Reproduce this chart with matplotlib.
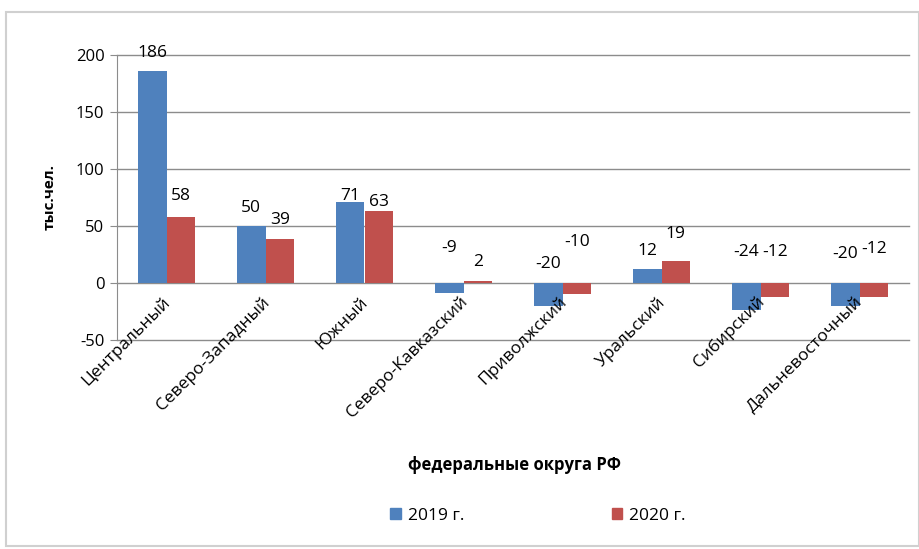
import matplotlib
matplotlib.use("Agg")
import matplotlib.pyplot as plt
import numpy as np
from matplotlib.patches import Rectangle, Patch

plt.rcParams['font.family'] = ['Open Sans', 'DejaVu Sans']

categories = ["Центральный", "Северо-Западный", "Южный", "Северо-Кавказский",
              "Приволжский", "Уральский", "Сибирский", "Дальневосточный"]
values_2019 = [186, 50, 71, -9, -20, 12, -24, -20]
values_2020 = [58, 39, 63, 2, -10, 19, -12, -12]
series_names = ["2019 г.", "2020 г."]
yticks = [-50, 0, 50, 100, 150, 200]

# label heights (data units) as placed in the reference
label_y_2019 = [202, 66, 76, 31, 17, 28, 27, 25]
label_y_2020 = [76, 55, 71, 18, 36, 43, 27, 30]

blue = "#4F81BD"
red = "#C0504D"
grid_c = "#8c8c8c"

fig = plt.figure(figsize=(9.19, 5.49), dpi=100)
ax = fig.add_axes([117/919, 1-340/549, (909-117)/919, (340-55)/549])

x = np.arange(len(categories))
w = 0.29
ax.bar(x - w/2, values_2019, w, color=blue, zorder=3)
ax.bar(x + w/2, values_2020, w, color=red, zorder=3)

ax.set_xlim(-0.5, len(categories) - 0.5)
ax.set_ylim(-50, 200)
ax.set_yticks(yticks)
ax.set_yticklabels([str(t) for t in yticks], fontsize=12)
ax.tick_params(axis='y', length=5, color=grid_c, pad=4)
for t in yticks:
    ax.axhline(t, color=grid_c, linewidth=1, zorder=1, clip_on=False)
ax.set_xticks([])
for s in ['top', 'right', 'bottom']:
    ax.spines[s].set_visible(False)
ax.spines['left'].set_color(grid_c)

for xi, v, ly in zip(x, values_2019, label_y_2019):
    ax.text(xi - w/2, ly, str(v), ha='center', va='center', fontsize=12.5, zorder=4)
for xi, v, ly in zip(x, values_2020, label_y_2020):
    ax.text(xi + w/2, ly, str(v), ha='center', va='center', fontsize=12.5, zorder=4)

for xi, c in zip(x, categories):
    ax.annotate(c, xy=(xi, 0), xytext=(1, -12), textcoords='offset points',
                rotation=45, ha='right', va='center', rotation_mode='anchor',
                fontsize=12.5, annotation_clip=False)

ax.set_ylabel("тыс.чел.", fontsize=11, fontweight='bold', labelpad=14)
fig.text(515/919, 1-465/549, "федеральные округа РФ", ha='center', va='center',
         fontsize=12, fontweight='bold')

handles = [Patch(color=blue), Patch(color=red)]
fig.legend(handles, series_names, loc='center', bbox_to_anchor=(538/919, 1-516/549),
           ncol=2, frameon=False, fontsize=12.5, columnspacing=8.5,
           handlelength=0.6, handleheight=0.6, handletextpad=0.4)

fig.patches.append(Rectangle((6/919, 0.005), 0.993, 1-12/549-0.005, transform=fig.transFigure,
                             fill=False, edgecolor="#d0d0d0", linewidth=1.5))

fig.savefig("out.png", dpi=100)
